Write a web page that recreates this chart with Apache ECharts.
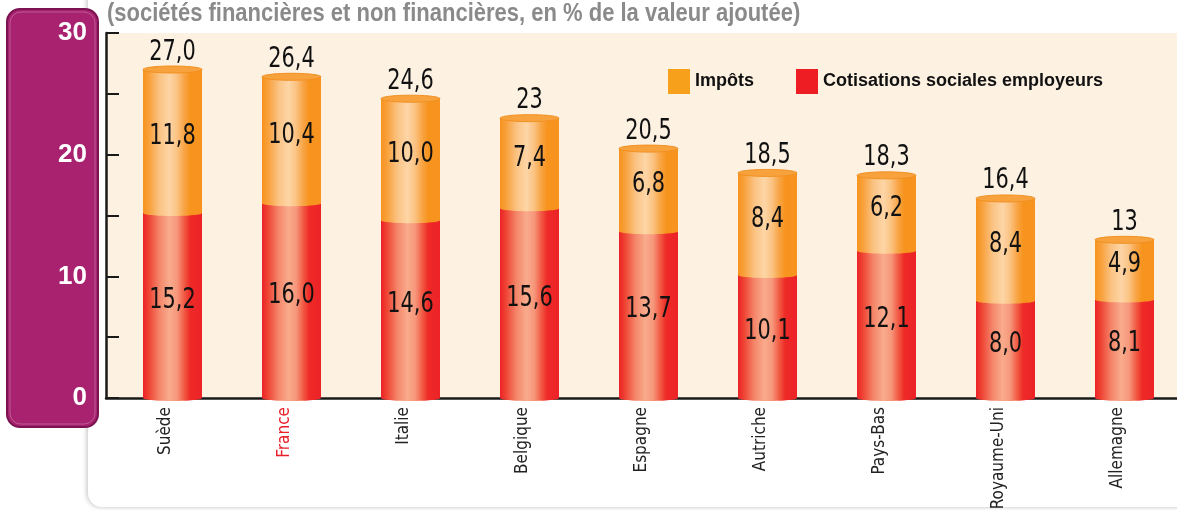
<!DOCTYPE html>
<html>
<head>
    <meta charset="utf-8">
    <title>ECharts</title>
    <script src="https://cdn.jsdelivr.net/npm/echarts@6/dist/echarts.min.js"></script>
    <style>
        html, body { margin: 0; background: #fff; }
        #main { width: 1177px; height: 510px; }
    </style>
</head>
<body>
<div id="main"></div>
<script type="text/javascript">
    var pays = ['Suède', 'France', 'Italie', 'Belgique', 'Espagne', 'Autriche', 'Pays-Bas', 'Royaume-Uni', 'Allemagne'];
    var cotisations = [15.2, 16.0, 14.6, 15.6, 13.7, 10.1, 12.1, 8.0, 8.1];
    var impots = [11.8, 10.4, 10.0, 7.4, 6.8, 8.4, 6.2, 8.4, 4.9];
    var totaux = ['27,0', '26,4', '24,6', '23', '20,5', '18,5', '18,3', '16,4', '13'];
    var yTicks = [0, 10, 20, 30];

    var NARROW = "'Liberation Sans Narrow', 'DejaVu Sans Condensed', sans-serif";
    var BOLD = "'Liberation Sans', Arial, sans-serif";

    function grad(stops) {
        return {
            type: 'linear', x: 0, y: 0, x2: 1, y2: 0,
            colorStops: stops.map(function (s) { return { offset: s[0], color: s[1] }; })
        };
    }
    var redFill = grad([[0, '#EC2227'], [0.1, '#EF4434'], [0.28, '#F4866A'], [0.45, '#F9AB8C'], [0.58, '#F6977B'], [0.7, '#F15A43'], [0.8, '#EE2A27'], [1, '#EC2227']]);
    var orangeFill = grad([[0, '#F7931E'], [0.1, '#F8A03A'], [0.28, '#FBC383'], [0.45, '#FDD5A6'], [0.58, '#FBC281'], [0.7, '#F8A444'], [0.8, '#F7941E'], [1, '#F7931E']]);

    function fmt(v) { return v.toFixed(1).replace('.', ','); }

    // barres décalées vers la droite dans chaque catégorie
    var BAR_W = 59, SHIFT = 7;

    function valueText(txt, x, y, va) {
        return {
            type: 'text', x: x, y: y, scaleX: 0.8,
            style: { text: txt, fill: '#111', font: '29px ' + NARROW, align: 'center', verticalAlign: va }
        };
    }

    function cylinder(fill, isTop) {
        return function (params, api) {
            var i = api.value(0);
            var p0 = api.coord([i, api.value(1)]);
            var p1 = api.coord([i, api.value(2)]);
            var cx = p0[0] + SHIFT;
            var x = cx - BAR_W / 2;
            var children = [
                { type: 'ellipse', shape: { cx: cx, cy: p0[1], rx: BAR_W / 2, ry: 3 }, style: { fill: fill } },
                { type: 'rect', shape: { x: x, y: p1[1], width: BAR_W, height: p0[1] - p1[1] }, style: { fill: fill } },
                valueText(fmt(api.value(2) - api.value(1)), cx, (p0[1] + p1[1]) / 2 - 5, 'middle')
            ];
            if (isTop) {
                children.push({
                    type: 'ellipse', shape: { cx: cx, cy: p1[1], rx: BAR_W / 2, ry: 3.5 },
                    style: { fill: '#F8A23D', stroke: '#F2901F', lineWidth: 1 }
                });
                children.push(valueText(totaux[params.dataIndex], cx, p1[1] - 3, 'bottom'));
            }
            return { type: 'group', children: children };
        };
    }

    var redData = pays.map(function (p, i) { return [i, 0, cotisations[i]]; });
    var orangeData = pays.map(function (p, i) { return [i, cotisations[i], cotisations[i] + impots[i]]; });

    var chart = echarts.init(document.getElementById('main'));
    chart.setOption({
        animation: false,
        graphic: [
            {
                type: 'rect', z: -30, silent: true,
                shape: { x: 88, y: -20, width: 1120, height: 527, r: 14 },
                style: { fill: '#fff', shadowBlur: 5, shadowColor: 'rgba(0,0,0,0.25)', shadowOffsetX: -1 }
            },
            {
                type: 'rect', z: -20, silent: true,
                shape: { x: 7, y: 9, width: 91, height: 418, r: 13 },
                style: { fill: '#A8226F', stroke: '#7B1352', lineWidth: 2 }
            },
            {
                type: 'rect', z: -19, silent: true,
                shape: { x: 10, y: 12, width: 85, height: 412, r: 11 },
                style: { fill: 'none', stroke: 'rgba(255,255,255,0.25)', lineWidth: 1 }
            },
            {
                type: 'text', x: 107, y: 14, scaleX: 0.88, silent: true,
                style: {
                    text: '(sociétés financières et non financières, en % de la valeur ajoutée)',
                    font: 'bold 25px ' + BOLD, fill: '#8A8A8A', verticalAlign: 'middle'
                }
            }
        ],
        legend: {
            data: ['Impôts', 'Cotisations sociales employeurs'],
            left: 668, top: 69, padding: 0, width: 600,
            icon: 'rect', itemWidth: 22, itemHeight: 25, itemGap: 42,
            textStyle: { fontFamily: BOLD, fontSize: 18, fontWeight: 'bold', color: '#111' }
        },
        grid: {
            left: 106, right: 0, top: 33, bottom: 112,
            containLabel: false, outerBoundsMode: 'none',
            show: true, backgroundColor: '#FDF1E2', borderWidth: 0
        },
        xAxis: {
            type: 'category',
            data: pays,
            axisLine: { lineStyle: { color: '#1a1a1a', width: 2.5 } },
            axisTick: { inside: true, length: 10, lineStyle: { color: '#1a1a1a', width: 2 } },
            axisLabel: {
                rotate: 90, margin: 9, fontSize: 17, fontFamily: NARROW,
                color: function (v) { return v === 'France' ? '#E8202A' : '#222'; }
            }
        },
        yAxis: {
            type: 'value', min: 0, max: 30, interval: 5,
            splitLine: { show: false },
            axisLine: { show: true, lineStyle: { color: '#1a1a1a', width: 2.5 } },
            axisTick: { show: true, inside: true, length: 13, lineStyle: { color: '#1a1a1a', width: 2 } },
            axisLabel: {
                margin: 19, fontSize: 26, fontWeight: 'bold', fontFamily: BOLD, color: '#fff',
                formatter: function (v) { return yTicks.indexOf(v) >= 0 ? String(v) : ''; }
            }
        },
        series: [
            {
                name: 'Cotisations sociales employeurs', type: 'custom',
                itemStyle: { color: '#EE1D24' },
                renderItem: cylinder(redFill, false),
                encode: { x: 0, y: [1, 2] },
                data: redData
            },
            {
                name: 'Impôts', type: 'custom',
                itemStyle: { color: '#F6A01C' },
                renderItem: cylinder(orangeFill, true),
                encode: { x: 0, y: [1, 2] },
                data: orangeData
            }
        ]
    });
</script>
</body>
</html>
